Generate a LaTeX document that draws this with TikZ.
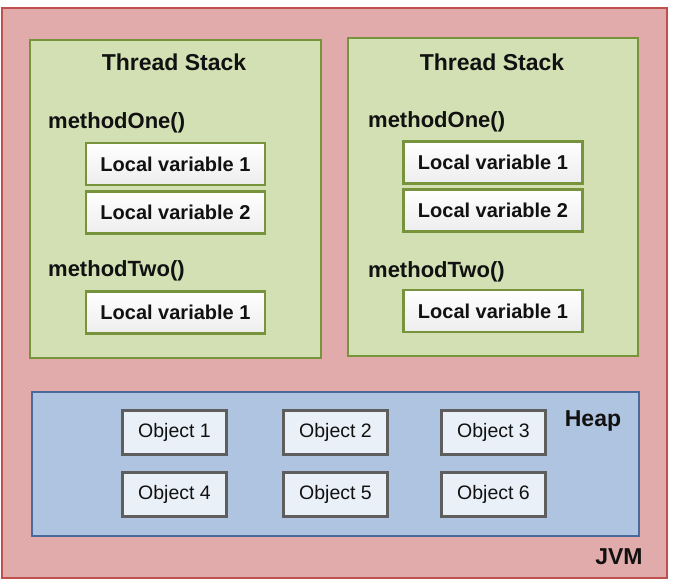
\documentclass[tikz,border=0pt]{standalone}
\usepackage{fontspec}
\setmainfont{Liberation Sans}
\usepackage{tikz}
\usetikzlibrary{positioning}
\definecolor{JvmFill}{HTML}{E2ABAB}
\definecolor{JvmLine}{HTML}{C0504D}
\definecolor{StackFill}{HTML}{D3E0B4}
\definecolor{StackLine}{HTML}{77933C}
\definecolor{HeapFill}{HTML}{AFC4E0}
\definecolor{HeapLine}{HTML}{4A6A9C}
\definecolor{ObjFill}{HTML}{EAF0F8}
\definecolor{ObjLine}{HTML}{5E5E5E}
\definecolor{InkBlack}{HTML}{111111}

\begin{document}
\begin{tikzpicture}[x=1pt, y=-1pt, every node/.style={text=InkBlack},
  area/.style={draw, line width=2pt, inner sep=0pt, minimum width=#1},
  title/.style={inner sep=0pt, font=\fontsize{23}{26}\selectfont\bfseries},
  method/.style={inner sep=0pt, anchor=west, font=\fontsize{22}{25}\selectfont\bfseries},
  localvar/.style={draw=StackLine, line width=2.5pt, top color=white, bottom color=black!7, minimum width=179pt, minimum height=42pt, inner sep=0pt, font=\fontsize{20}{23}\selectfont\bfseries},
  object/.style={draw=ObjLine, line width=3pt, fill=ObjFill, minimum width=104pt, minimum height=44pt, inner sep=0pt, font=\fontsize{19.5}{22}\selectfont}]
  \useasboundingbox (0,0) rectangle (673,583);
  % outer JVM box
  \node[area=665pt, fill=JvmFill, draw=JvmLine, minimum height=570pt] (jvm) at (334.5,293) {};
  \node[title] (jvmtxt) at (619,557) {JVM};
  % thread stacks
  \node[area=291pt, fill=StackFill, draw=StackLine, minimum height=318pt] (stackL) at (175.5,199) {};
  \node[area=290pt, fill=StackFill, draw=StackLine, minimum height=318pt] (stackR) at (493,197) {};
  \node[title] (titleL) at (174,62) {Thread Stack};
  \node[title] (titleR) at (492,62) {Thread Stack};
  \node[method] (oneL) at (48,123) {methodOne()};
  \node[method] (oneR) at (368,122) {methodOne()};
  \node[method] (twoL) at (48,271) {methodTwo()};
  \node[method] (twoR) at (368,272) {methodTwo()};
  \node[localvar] (varL1) at (175.5,164) {Local variable 1};
  \node[localvar] (varL2) at (175.5,212.5) {Local variable 2};
  \node[localvar] (varL3) at (175.5,312.5) {Local variable 1};
  \node[localvar] (varR1) at (493,162.5) {Local variable 1};
  \node[localvar] (varR2) at (493,210.5) {Local variable 2};
  \node[localvar] (varR3) at (493,311) {Local variable 1};
  % heap with objects
  \node[area=607pt, fill=HeapFill, draw=HeapLine, minimum height=144pt] (heap) at (335.5,464) {};
  \node[title] (heaptxt) at (593,421) {Heap};
  \node[object] (obj1) at (174.5,432.5) {Object 1};
  \node[object] (obj2) at (335.5,432.5) {Object 2};
  \node[object] (obj3) at (493.5,432.5) {Object 3};
  \node[object] (obj4) at (174.5,494) {Object 4};
  \node[object] (obj5) at (335.5,494) {Object 5};
  \node[object] (obj6) at (493.5,494) {Object 6};
\end{tikzpicture}
\end{document}
